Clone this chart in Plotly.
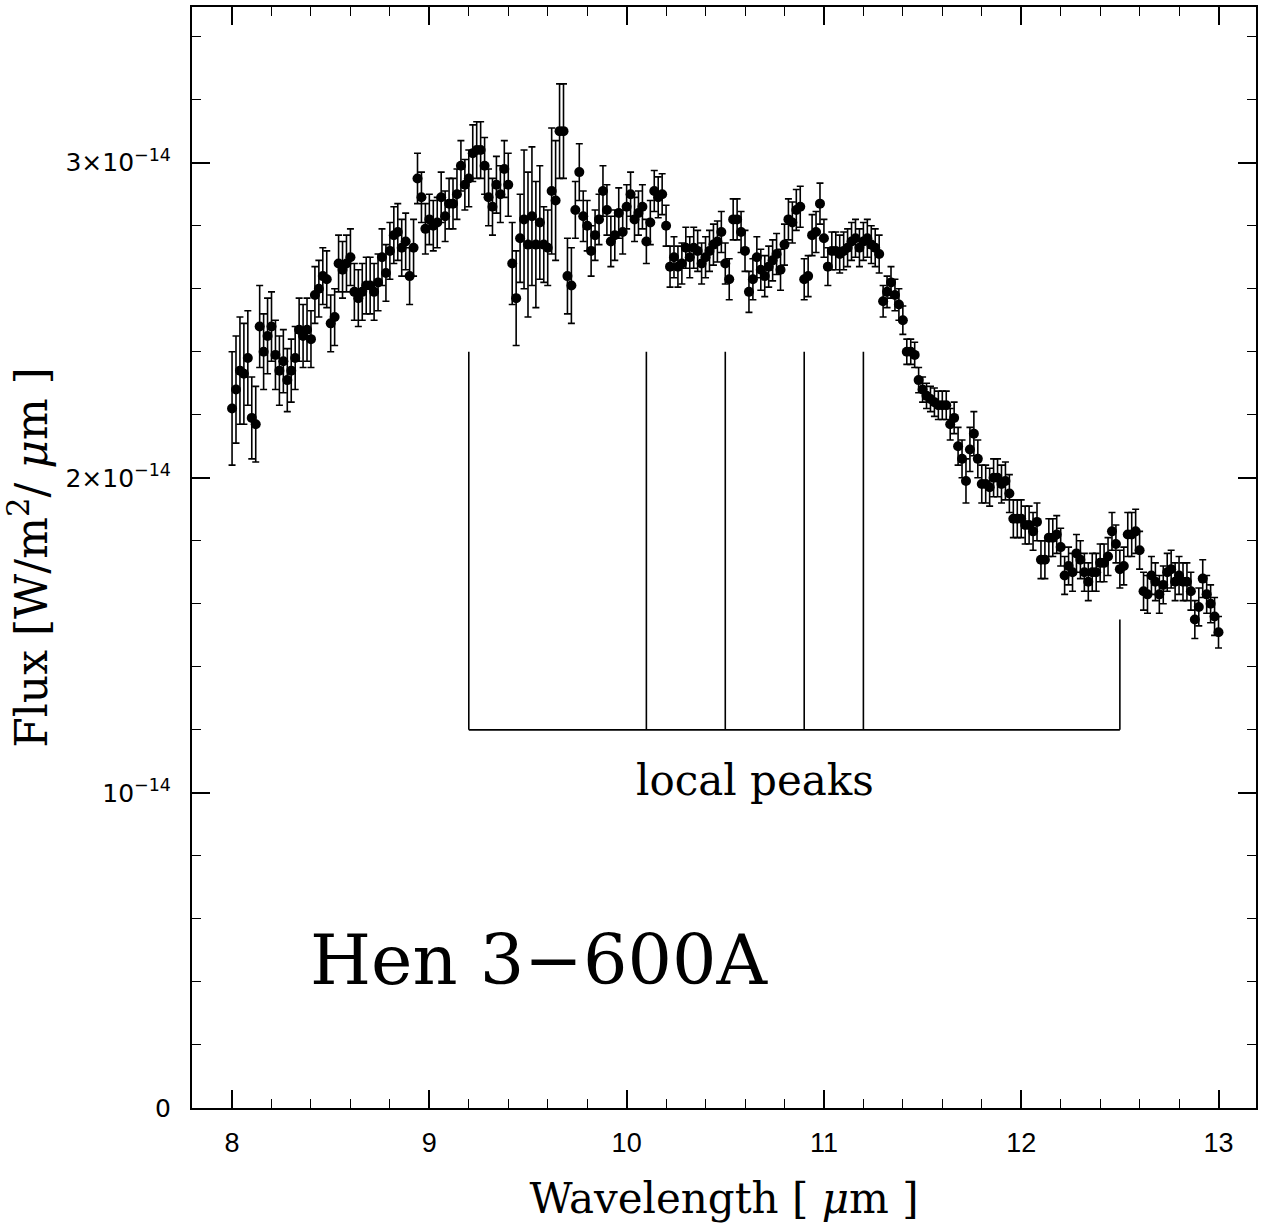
import plotly.graph_objects as go

# Wavelength grid (micron)
wavelength = [
    8.00, 8.02, 8.04, 8.06, 8.08, 8.10, 8.12, 8.14, 8.16, 8.18,
    8.20, 8.22, 8.24, 8.26, 8.28, 8.30, 8.32, 8.34, 8.36, 8.38,
    8.40, 8.42, 8.44, 8.46, 8.48, 8.50, 8.52, 8.54, 8.56, 8.58,
    8.60, 8.62, 8.64, 8.66, 8.68, 8.70, 8.72, 8.74, 8.76, 8.78,
    8.80, 8.82, 8.84, 8.86, 8.88, 8.90, 8.92, 8.94, 8.96, 8.98,
    9.00, 9.02, 9.04, 9.06, 9.08, 9.10, 9.12, 9.14, 9.16, 9.18,
    9.20, 9.22, 9.24, 9.26, 9.28, 9.30, 9.32, 9.34, 9.36, 9.38,
    9.40, 9.42, 9.44, 9.46, 9.48, 9.50, 9.52, 9.54, 9.56, 9.58,
    9.60, 9.62, 9.64, 9.66, 9.68, 9.70, 9.72, 9.74, 9.76, 9.78,
    9.80, 9.82, 9.84, 9.86, 9.88, 9.90, 9.92, 9.94, 9.96, 9.98,
    10.00, 10.02, 10.04, 10.06, 10.08, 10.10, 10.12, 10.14, 10.16, 10.18,
    10.20, 10.22, 10.24, 10.26, 10.28, 10.30, 10.32, 10.34, 10.36, 10.38,
    10.40, 10.42, 10.44, 10.46, 10.48, 10.50, 10.52, 10.54, 10.56, 10.58,
    10.60, 10.62, 10.64, 10.66, 10.68, 10.70, 10.72, 10.74, 10.76, 10.78,
    10.80, 10.82, 10.84, 10.86, 10.88, 10.90, 10.92, 10.94, 10.96, 10.98,
    11.00, 11.02, 11.04, 11.06, 11.08, 11.10, 11.12, 11.14, 11.16, 11.18,
    11.20, 11.22, 11.24, 11.26, 11.28, 11.30, 11.32, 11.34, 11.36, 11.38,
    11.40, 11.42, 11.44, 11.46, 11.48, 11.50, 11.52, 11.54, 11.56, 11.58,
    11.60, 11.62, 11.64, 11.66, 11.68, 11.70, 11.72, 11.74, 11.76, 11.78,
    11.80, 11.82, 11.84, 11.86, 11.88, 11.90, 11.92, 11.94, 11.96, 11.98,
    12.00, 12.02, 12.04, 12.06, 12.08, 12.10, 12.12, 12.14, 12.16, 12.18,
    12.20, 12.22, 12.24, 12.26, 12.28, 12.30, 12.32, 12.34, 12.36, 12.38,
    12.40, 12.42, 12.44, 12.46, 12.48, 12.50, 12.52, 12.54, 12.56, 12.58,
    12.60, 12.62, 12.64, 12.66, 12.68, 12.70, 12.72, 12.74, 12.76, 12.78,
    12.80, 12.82, 12.84, 12.86, 12.88, 12.90, 12.92, 12.94, 12.96, 12.98,
    13.00,
]

# Flux in units of 1e-14 W/m^2/micron
flux_e14 = [
    2.22, 2.28, 2.34, 2.33, 2.38, 2.19, 2.17, 2.48, 2.40, 2.45,
    2.48, 2.39, 2.34, 2.37, 2.31, 2.34, 2.38, 2.47, 2.45, 2.47,
    2.44, 2.58, 2.60, 2.64, 2.63, 2.49, 2.51, 2.68, 2.66, 2.68,
    2.70, 2.59, 2.57, 2.59, 2.61, 2.61, 2.59, 2.62, 2.70, 2.65,
    2.72, 2.77, 2.78, 2.73, 2.75, 2.64, 2.73, 2.95, 2.89, 2.79,
    2.82, 2.80, 2.81, 2.89, 2.83, 2.87, 2.87, 2.90, 2.99, 2.93,
    2.95, 3.03, 3.04, 3.04, 2.99, 2.89, 2.86, 2.93, 2.90, 2.98,
    2.93, 2.68, 2.57, 2.76, 2.82, 2.74, 2.83, 2.74, 2.81, 2.74,
    2.73, 2.91, 2.88, 3.10, 3.10, 2.64, 2.61, 2.85, 2.97, 2.83,
    2.80, 2.72, 2.77, 2.82, 2.91, 2.85, 2.75, 2.77, 2.84, 2.78,
    2.86, 2.90, 2.82, 2.84, 2.86, 2.75, 2.81, 2.91, 2.89, 2.90,
    2.80, 2.67, 2.70, 2.67, 2.68, 2.73, 2.70, 2.73, 2.72, 2.68,
    2.70, 2.72, 2.74, 2.75, 2.78, 2.68, 2.63, 2.82, 2.82, 2.78,
    2.72, 2.59, 2.63, 2.70, 2.66, 2.64, 2.67, 2.69, 2.71, 2.66,
    2.74, 2.82, 2.81, 2.85, 2.86, 2.63, 2.64, 2.77, 2.78, 2.87,
    2.76, 2.67, 2.72, 2.72, 2.71, 2.72, 2.73, 2.75, 2.76, 2.73,
    2.75, 2.76, 2.74, 2.73, 2.71, 2.56, 2.59, 2.62, 2.58, 2.55,
    2.50, 2.40, 2.40, 2.39, 2.31, 2.28, 2.26, 2.25, 2.24, 2.23,
    2.23, 2.23, 2.17, 2.19, 2.10, 2.06, 1.99, 2.09, 2.14, 2.06,
    1.98, 1.98, 1.97, 2.00, 2.00, 1.98, 1.99, 1.95, 1.87, 1.87,
    1.87, 1.85, 1.85, 1.83, 1.86, 1.74, 1.74, 1.81, 1.81, 1.82,
    1.78, 1.69, 1.72, 1.70, 1.76, 1.74, 1.70, 1.67, 1.70, 1.70,
    1.73, 1.73, 1.75, 1.83, 1.79, 1.71, 1.72, 1.82, 1.82, 1.83,
    1.77, 1.64, 1.63, 1.69, 1.67, 1.63, 1.66, 1.70, 1.71, 1.67,
    1.69, 1.67, 1.67, 1.64, 1.55, 1.59, 1.68, 1.63, 1.60, 1.56,
    1.51,
]

# 1-sigma errors, same units
flux_err_e14 = [
    0.18, 0.17, 0.17, 0.16, 0.15, 0.13, 0.12, 0.13, 0.12, 0.12,
    0.11, 0.11, 0.11, 0.10, 0.10, 0.10, 0.10, 0.10, 0.10, 0.10,
    0.09, 0.09, 0.09, 0.09, 0.09, 0.09, 0.09, 0.09, 0.09, 0.09,
    0.09, 0.09, 0.09, 0.09, 0.09, 0.09, 0.09, 0.09, 0.09, 0.09,
    0.09, 0.09, 0.09, 0.09, 0.09, 0.09, 0.09, 0.08, 0.08, 0.08,
    0.08, 0.08, 0.08, 0.08, 0.08, 0.08, 0.08, 0.08, 0.08, 0.08,
    0.09, 0.09, 0.09, 0.09, 0.09, 0.09, 0.09, 0.09, 0.09, 0.09,
    0.10, 0.13, 0.15, 0.14, 0.22, 0.23, 0.22, 0.20, 0.18, 0.12,
    0.12, 0.20, 0.19, 0.15, 0.15, 0.12, 0.12, 0.09, 0.09, 0.08,
    0.08, 0.08, 0.08, 0.08, 0.08, 0.08, 0.08, 0.08, 0.08, 0.07,
    0.07, 0.07, 0.07, 0.07, 0.07, 0.07, 0.07, 0.065, 0.065, 0.065,
    0.065, 0.065, 0.065, 0.065, 0.065, 0.065, 0.065, 0.065, 0.065, 0.065,
    0.065, 0.065, 0.065, 0.065, 0.065, 0.065, 0.065, 0.065, 0.065, 0.065,
    0.065, 0.065, 0.065, 0.065, 0.065, 0.065, 0.065, 0.065, 0.065, 0.065,
    0.065, 0.065, 0.065, 0.065, 0.065, 0.065, 0.065, 0.065, 0.065, 0.065,
    0.06, 0.06, 0.06, 0.06, 0.06, 0.06, 0.06, 0.06, 0.06, 0.06,
    0.06, 0.06, 0.06, 0.06, 0.06, 0.05, 0.05, 0.05, 0.05, 0.05,
    0.045, 0.04, 0.04, 0.04, 0.04, 0.04, 0.04, 0.04, 0.045, 0.045,
    0.045, 0.045, 0.05, 0.05, 0.06, 0.06, 0.07, 0.07, 0.07, 0.06,
    0.06, 0.06, 0.06, 0.06, 0.06, 0.06, 0.06, 0.06, 0.06, 0.06,
    0.06, 0.06, 0.06, 0.06, 0.06, 0.06, 0.06, 0.06, 0.06, 0.06,
    0.06, 0.06, 0.06, 0.06, 0.06, 0.06, 0.06, 0.06, 0.06, 0.06,
    0.06, 0.06, 0.06, 0.06, 0.06, 0.06, 0.06, 0.07, 0.07, 0.07,
    0.06, 0.06, 0.06, 0.06, 0.06, 0.06, 0.06, 0.06, 0.06, 0.06,
    0.06, 0.06, 0.06, 0.06, 0.06, 0.06, 0.06, 0.06, 0.06, 0.06,
    0.05,
]

# Local-peak markers
peak_wavelengths = [9.2, 10.1, 10.5, 10.9, 11.2]
peak_line_top = 2.4
bracket_end_wavelength = 12.5
bracket_end_top = 1.55
bracket_level = 1.2

y_tickvals = [0, 1, 2, 3]
y_ticktext = ["0", "10<sup>−14</sup>", "2×10<sup>−14</sup>", "3×10<sup>−14</sup>"]
x_tickvals = [8, 9, 10, 11, 12, 13]
x_ticktext = ["8", "9", "10", "11", "12", "13"]

fig = go.Figure()

fig.add_trace(go.Scatter(
    x=wavelength, y=flux_e14, mode="markers",
    marker=dict(color="black", size=10),
    error_y=dict(type="data", array=flux_err_e14, visible=True,
                 color="black", thickness=1.6, width=3.5),
    showlegend=False,
))

line_style = dict(color="black", width=1.6)
shapes = []
for w in peak_wavelengths:
    shapes.append(dict(type="line", xref="x", yref="y", x0=w, x1=w,
                       y0=bracket_level, y1=peak_line_top, line=line_style))
shapes.append(dict(type="line", xref="x", yref="y",
                   x0=bracket_end_wavelength, x1=bracket_end_wavelength,
                   y0=bracket_level, y1=bracket_end_top, line=line_style))
shapes.append(dict(type="line", xref="x", yref="y",
                   x0=peak_wavelengths[0], x1=bracket_end_wavelength,
                   y0=bracket_level, y1=bracket_level, line=line_style))

fig.update_layout(
    width=1263, height=1230,
    margin=dict(l=192, r=6, t=5, b=122),
    paper_bgcolor="white", plot_bgcolor="white",
    shapes=shapes,
    annotations=[
        dict(x=10.65, y=1.04, xref="x", yref="y", text="local peaks",
             showarrow=False, font=dict(family="DejaVu Serif", size=42, color="black")),
        dict(x=9.56, y=0.47, xref="x", yref="y", text="Hen 3−600A",
             showarrow=False, font=dict(family="DejaVu Serif", size=70, color="black")),
    ],
)

axis_common = dict(
    showgrid=False, zeroline=False, showline=True, linecolor="black", linewidth=2,
    mirror="allticks", ticks="inside", ticklen=18, tickwidth=1.5, tickcolor="black",
)

fig.update_xaxes(
    range=[7.797, 13.19], tickvals=x_tickvals, ticktext=x_ticktext,
    tickfont=dict(family="Liberation Sans Narrow, Liberation Sans", size=27, color="black"),
    ticklabelstandoff=10,
    minor=dict(ticks="inside", dtick=0.2, tick0=8, ticklen=9, tickwidth=1.2, tickcolor="black"),
    title=dict(text="Wavelength [ <i>μ</i>m ]",
               font=dict(family="DejaVu Serif", size=42, color="black"), standoff=26),
    **axis_common,
)
fig.update_yaxes(
    range=[0, 3.494], tickvals=y_tickvals, ticktext=y_ticktext,
    tickfont=dict(family="DejaVu Sans", size=25, color="black"),
    ticklabelstandoff=14,
    minor=dict(ticks="inside", dtick=0.2, tick0=0, ticklen=9, tickwidth=1.2, tickcolor="black"),
    title=dict(text="Flux [W/m<sup>2</sup>/ <i>μ</i>m ]",
               font=dict(family="DejaVu Serif", size=44, color="black"), standoff=30),
    **axis_common,
)

fig.write_html("out.html")
